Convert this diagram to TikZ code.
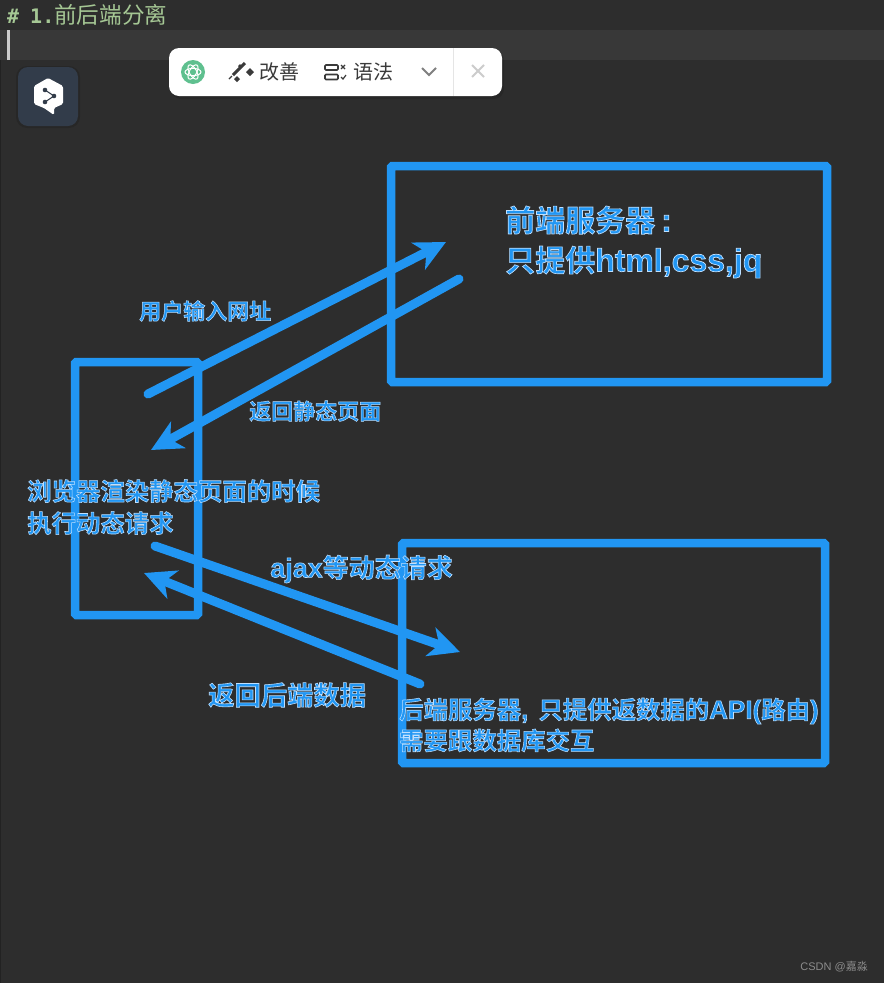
\documentclass[tikz,border=0pt]{standalone}
\usepackage{fontspec}
\setmainfont{Liberation Sans}
\setmonofont{DejaVu Sans Mono}
\newfontfamily\cjk{Noto Sans CJK SC}
\newfontfamily\cjkbold[FakeBold=2.2]{Noto Sans CJK SC Bold}
\newfontfamily\penlatin[FakeBold=2.2]{Liberation Sans Bold}
\usetikzlibrary{arrows.meta}
\definecolor{editorbg}{HTML}{2D2D2D}
\definecolor{linebg}{HTML}{383838}
\definecolor{penblue}{HTML}{2196F3}
\definecolor{headgreen}{HTML}{A5C794}
\definecolor{gptgreen}{HTML}{5FC08F}
\definecolor{deeplbg}{HTML}{323C4A}
\definecolor{tooldark}{HTML}{3A3A3A}
\newcommand{\penedge}{\special{pdf:code 0.75 0.88 1 RG}}
\newcommand{\lat}[2]{{\fontsize{#1}{#1}\selectfont\penlatin #2}}
\tikzset{
    panel/.style={draw=penblue, line width=8.5pt, rounded corners=1.5pt, inner sep=0pt},
    penarrow/.style={draw=penblue, line width=9pt, line cap=round, -{Stealth[length=31pt, width=30pt, inset=9pt]}},
    pentext/.style={text=penblue, anchor=west, inner sep=0pt, align=left, font=\fontsize{#1}{#1}\selectfont\cjkbold},
    tooltext/.style={text=tooldark, anchor=west, inner sep=0pt, font=\fontsize{20}{20}\selectfont\cjk},
}
\begin{document}
\begin{tikzpicture}[x=1pt, y=-1pt]
    \useasboundingbox (0,0) rectangle (884,983);
    \fill[editorbg] (0,0) rectangle (884,983);

    % Editor line and heading
    \fill[linebg] (0,30) rectangle (884,60);
    \fill[black!25!editorbg] (0,60) rectangle (1,983);
    \fill[white!80!black] (7,30) rectangle (10,60);
    \node[anchor=west, inner sep=0pt, text=headgreen] (heading) at (7,15) {\fontsize{20}{20}\selectfont\ttfamily\bfseries\#\hspace{11pt}1.\hspace{0pt}\fontsize{22.6}{22.6}\selectfont\normalfont\cjk 前后端分离};

    % Toolbar
    \fill[black, opacity=0.12, rounded corners=10pt] (171,50) rectangle (504,99);
    \fill[white, rounded corners=10pt] (169,48) rectangle (502,96);
    \fill[gptgreen] (193,72) circle (12);
    \foreach \a in {0,60,120} {
        \draw[white, line width=1pt, rotate around={\a:(193,72)}] (193,72) ellipse (8 and 3.6);
    }
    \draw[tooldark, line width=3pt] (233,75) -- (245,63);
    \draw[tooldark, line width=1.2pt] (229,79) -- (232,76);
    \foreach \x/\y/\r in {250/72/4, 237/79/3, 240/66/2} {
        \fill[tooldark] (\x-\r,\y) -- (\x,\y-\r) -- (\x+\r,\y) -- (\x,\y+\r) -- cycle;
    }
    \node[tooltext] (improve) at (259,72) {改善};
    \draw[tooldark, line width=1.6pt, rounded corners=1pt] (325,65) rectangle (338,70);
    \draw[tooldark, line width=1.6pt, rounded corners=1pt] (325,74.5) rectangle (338,79.5);
    \draw[tooldark, line width=1.2pt] (341,65) -- (345,69) (345,65) -- (341,69);
    \draw[tooldark, line width=1.2pt] (341,77) -- (343,79) -- (346,75);
    \node[tooltext] (grammar) at (353,72) {语法};
    \draw[black!50, line width=2pt] (422,68) -- (429,75) -- (436,68);
    \draw[black!10] (453,48) -- (453,96);
    \draw[black!20, line width=2pt] (472,65) -- (484,77) (484,65) -- (472,77);

    % DeepL badge
    \fill[black, opacity=0.12, rounded corners=11pt] (16,66) rectangle (80,128);
    \fill[deeplbg, rounded corners=10pt] (18,67) rectangle (78,126);
    \fill[white, rounded corners=1.5pt] (48,78) -- (63,86) -- (63,104) -- (54,108) -- (54,115) -- (44,108) -- (34,104) -- (34,86) -- cycle;
    \draw[deeplbg, line width=1pt] (45,90) -- (54,96) -- (45,102);
    \foreach \x/\y in {45/90, 54/96, 45/102} {
        \fill[deeplbg] (\x,\y) circle (2.3);
    }

    % Boxes
    \node[panel, minimum width=436pt, minimum height=216pt] (frontbox) at (609,274) {};
    \node[panel, minimum width=123pt, minimum height=253pt] (browserbox) at (136.5,488.5) {};
    \node[panel, minimum width=423pt, minimum height=220pt] (backbox) at (613.5,653) {};

    % Arrow ends
    \coordinate (reqstart) at (148,394);
    \coordinate (reqend) at (446,242);
    \coordinate (pagestart) at (459,279);
    \coordinate (pageend) at (151,450);
    \coordinate (ajaxstart) at (155,546);
    \coordinate (ajaxend) at (460,652);
    \coordinate (datastart) at (420,684);
    \coordinate (dataend) at (144,573);

    \draw[penarrow] (reqstart) -- (reqend);
    \draw[penarrow] (pagestart) -- (pageend);
    \draw[penarrow] (ajaxstart) -- (ajaxend);
    \draw[penarrow] (datastart) -- (dataend);

    % Labels
    \node[pentext=30, font=\fontsize{30}{40}\selectfont\cjkbold] (fronttext) at (505,242) {\penedge 前端服务器\hspace{6pt}\lat{32}{:}\\只提供\lat{32}{html,css,jq}};
    \node[pentext=22] (urltext) at (139,311) {\penedge 用户输入网址};
    \node[pentext=22] (pagetext) at (249,411) {\penedge 返回静态页面};
    \node[pentext=24.4, font=\fontsize{24.4}{32}\selectfont\cjkbold] (rendertext) at (27,507) {\penedge 浏览器渲染静态页面的时候\\执行动态请求};
    \node[pentext=26] (ajaxtext) at (270,569) {\penedge \lat{27}{ajax}等动态请求};
    \node[pentext=26.3] (datatext) at (208,695) {\penedge 返回后端数据};
    \node[pentext=24.4, font=\fontsize{24.4}{31}\selectfont\cjkbold] (backtext) at (399,725) {\penedge 后端服务器\lat{26}{,}\hspace{10pt}只提供返数据的\lat{26}{API(}路由\lat{26}{)}\\需要跟数据库交互};

    % Watermark
    \node[anchor=east, inner sep=0pt, text=black!45] (mark) at (868,967) {\fontsize{11}{12}\selectfont CSDN @\cjk 嘉淼};
\end{tikzpicture}
\end{document}
